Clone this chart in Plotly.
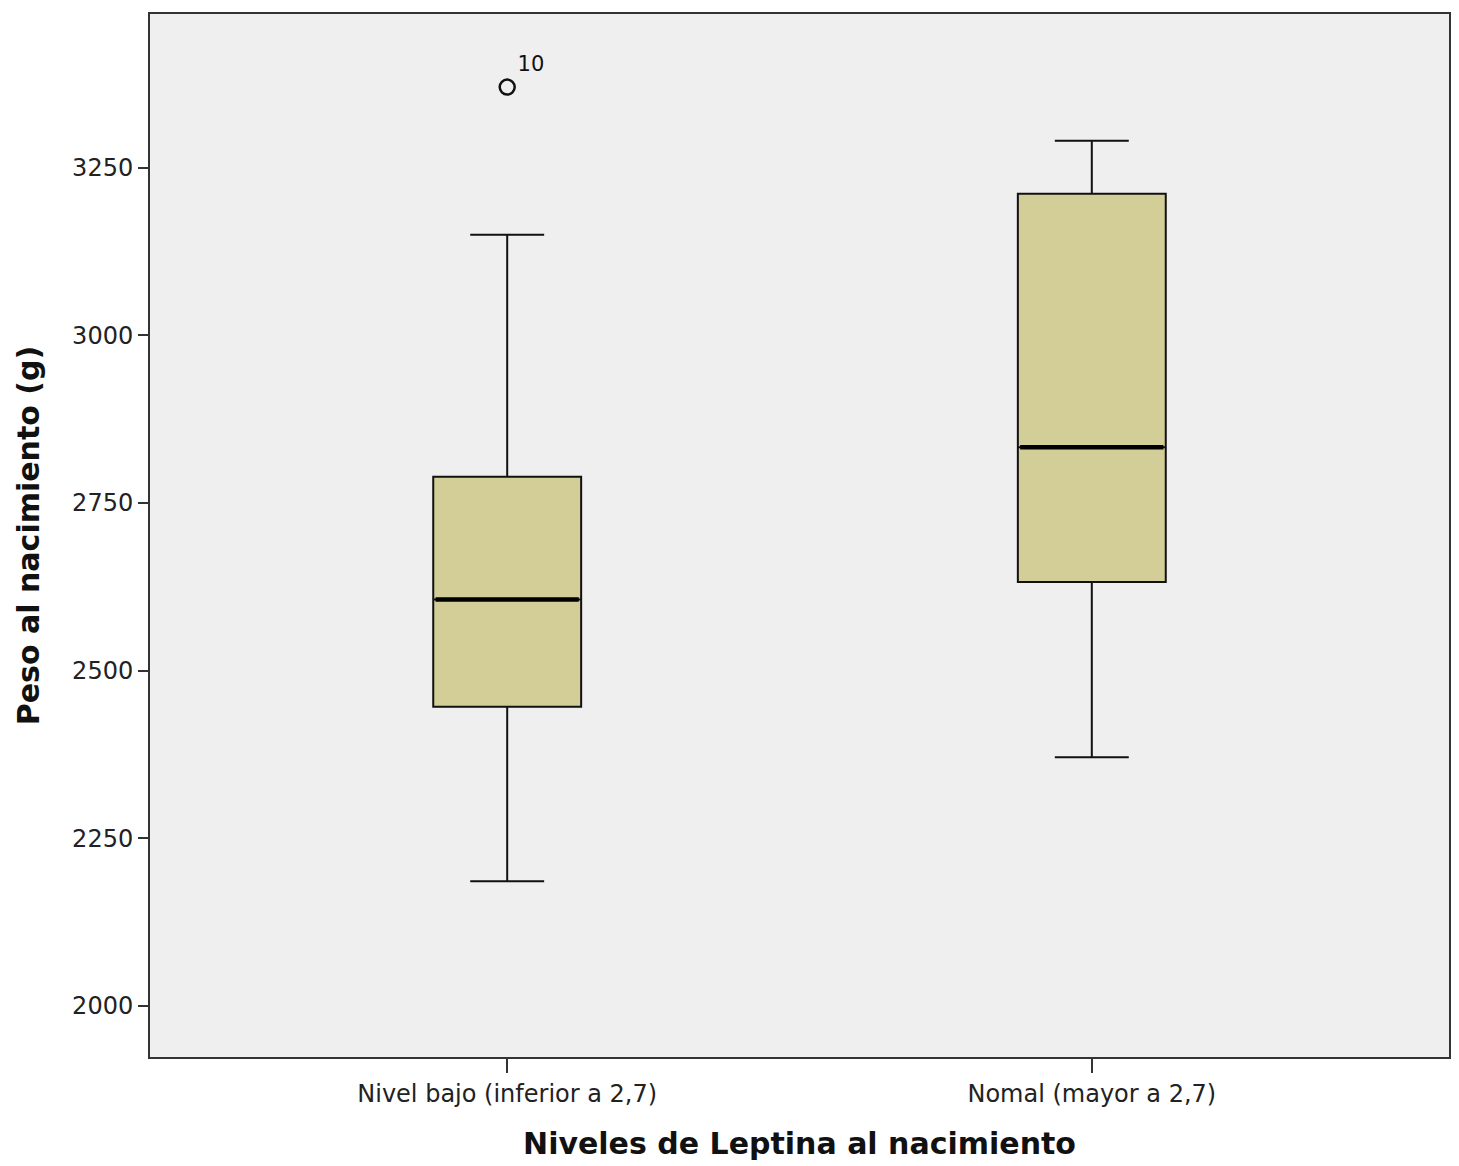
import plotly.graph_objects as go

categories = ["Nivel bajo (inferior a 2,7)", "Nomal (mayor a 2,7)"]
lower_whisker = [2186, 2371]
q1 = [2446, 2632]
median = [2606, 2833]
q3 = [2789, 3211]
upper_whisker = [3150, 3290]

outlier_cat = ["Nivel bajo (inferior a 2,7)"]
outlier_val = [3370]
outlier_label = ["10"]

y_ticks = [2000, 2250, 2500, 2750, 3000, 3250]

fig = go.Figure()
fig.add_trace(go.Box(
    x=categories, q1=q1, median=median, q3=q3,
    lowerfence=lower_whisker, upperfence=upper_whisker,
    fillcolor="#D3CE97", line=dict(color="#111111", width=2),
    width=0.253, whiskerwidth=0.5, boxpoints=False, showlegend=False,
    hoverinfo="skip",
))
# thicker median line overlay
fig.add_trace(go.Box(
    x=categories, q1=median, median=median, q3=median,
    lowerfence=median, upperfence=median,
    fillcolor="rgba(0,0,0,0)", line=dict(color="#000000", width=4.5),
    width=0.245, whiskerwidth=0, boxpoints=False, showlegend=False,
    hoverinfo="skip",
))
fig.add_trace(go.Scatter(
    x=outlier_cat, y=outlier_val, mode="markers+text",
    marker=dict(symbol="circle-open", size=15, color="#111111", line=dict(width=2.5)),
    text=outlier_label, textposition="top right",
    textfont=dict(family="DejaVu Sans", size=21, color="#111111"),
    showlegend=False, hoverinfo="skip",
))

axis_line = dict(showline=True, linecolor="#333333", linewidth=2, mirror=True,
                 ticks="outside", tickcolor="#333333", tickwidth=2, showgrid=False,
                 zeroline=False)

fig.update_layout(
    width=1451, height=1158,
    margin=dict(l=142, r=10, t=4, b=109),
    paper_bgcolor="white", plot_bgcolor="#EFEFEF",
    font=dict(family="DejaVu Sans", color="#111111"),
    xaxis=dict(**axis_line, type="category", categoryorder="array", categoryarray=categories,
               range=[-0.611, 1.611], ticklen=14,
               tickfont=dict(size=24, color="#222222"),
               title=dict(text="<b>Niveles de Leptina al nacimiento</b>",
                          font=dict(size=30, color="#111111"), standoff=26)),
    yaxis=dict(**axis_line, range=[1924, 3479], tickvals=y_ticks, ticklen=10,
               tickfont=dict(size=24, color="#222222"),
               title=dict(text="<b>Peso al nacimiento (g)</b>",
                          font=dict(size=30, color="#111111"), standoff=24)),
)

fig.write_html("out.html")
